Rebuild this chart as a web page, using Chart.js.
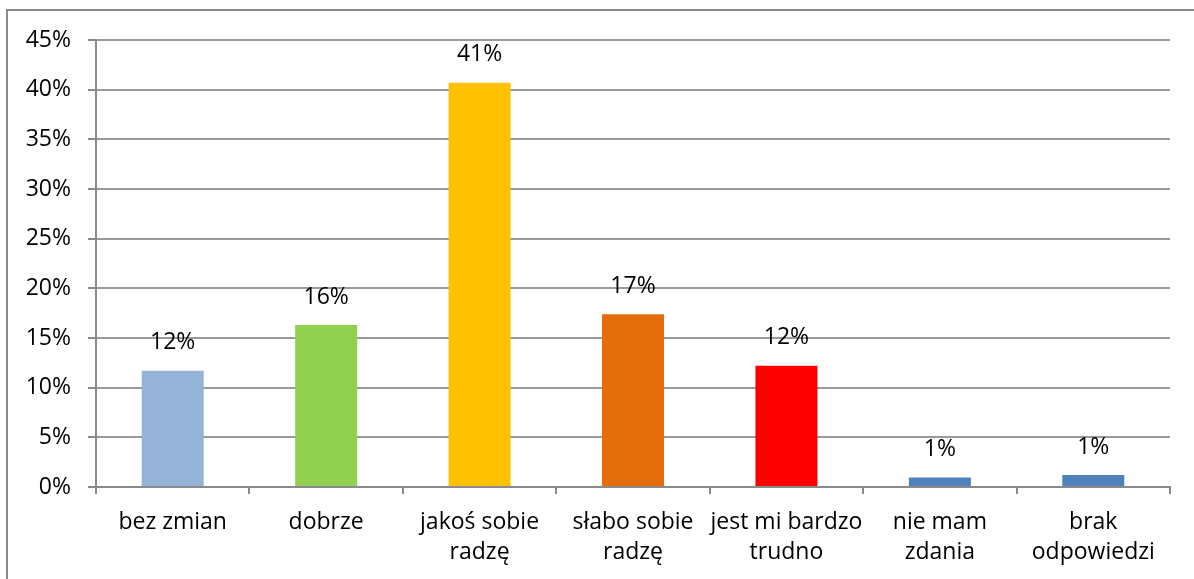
<!DOCTYPE html>
<html>
<head>
<meta charset="utf-8">
<script src="https://cdn.jsdelivr.net/npm/chart.js@4"></script>
<style>
  html, body { margin: 0; padding: 0; background: #fff; overflow: hidden; }
  #wrap { position: absolute; left: 0; top: 0; width: 1194px; height: 579px; }
  #frame { position: absolute; left: 6px; top: 9px; width: 1400px; height: 800px; border: 2px solid #8a8a8a; box-sizing: border-box; pointer-events: none; }
  canvas { position: absolute; left: 0; top: 0; }
</style>
</head>
<body>
<div id="wrap">
  <div id="frame"></div>
  <canvas id="c" width="1194" height="579"></canvas>
</div>
<script>
const categories = [
  'bez zmian',
  'dobrze',
  ['jakoś sobie', 'radzę'],
  ['słabo sobie', 'radzę'],
  ['jest mi bardzo', 'trudno'],
  ['nie mam', 'zdania'],
  ['brak', 'odpowiedzi']
];
const values = [11.7, 16.3, 40.7, 17.4, 12.2, 0.95, 1.2];
const valueLabels = ['12%', '16%', '41%', '17%', '12%', '1%', '1%'];
const barColors = ['#95B3D7', '#92D050', '#FFC000', '#E46C0A', '#FF0000', '#4F81BD', '#4F81BD'];
const yTicks = [0, 5, 10, 15, 20, 25, 30, 35, 40, 45];

const FONT = '"Open Sans", Lato, sans-serif';
const FS = 23;

const labelPlugin = {
  id: 'valueLabels',
  afterDatasetsDraw(chart) {
    const ctx = chart.ctx;
    const meta = chart.getDatasetMeta(0);
    ctx.save();
    ctx.font = FS + 'px ' + FONT;
    ctx.fillStyle = '#000';
    ctx.textAlign = 'center';
    ctx.textBaseline = 'middle';
    meta.data.forEach((bar, i) => {
      ctx.fillText(valueLabels[i], bar.x, bar.y - 28);
    });
    ctx.restore();
  }
};

new Chart(document.getElementById('c'), {
  type: 'bar',
  data: {
    labels: categories,
    datasets: [{
      data: values,
      backgroundColor: barColors,
      borderWidth: 0,
      barPercentage: 0.404,
      categoryPercentage: 1.0
    }]
  },
  options: {
    responsive: false,
    animation: false,
    layout: { padding: { left: 0, top: 40, right: 24, bottom: 0 } },
    plugins: { legend: { display: false }, tooltip: { enabled: false } },
    scales: {
      x: {
        afterFit(scale) { scale.height = 92; },
        grid: {
          display: true,
          offset: true,
          drawOnChartArea: false,
          drawTicks: true,
          tickLength: 7,
          color: '#8a8a8a',
          lineWidth: 2
        },
        border: { display: true, color: '#8a8a8a', width: 2 },
        ticks: {
          color: '#000',
          font: { family: FONT, size: FS, lineHeight: '30px' },
          padding: 13,
          maxRotation: 0,
          autoSkip: false
        }
      },
      y: {
        min: 0,
        max: 45,
        afterFit(scale) { scale.width = 96; },
        afterBuildTicks(scale) { scale.ticks = yTicks.map(v => ({ value: v })); },
        grid: {
          color: '#9a9a9a',
          lineWidth: 2,
          drawTicks: true,
          tickLength: 8,
          tickColor: '#8a8a8a'
        },
        border: { display: true, color: '#8a8a8a', width: 2 },
        ticks: {
          color: '#000',
          font: { family: FONT, size: FS },
          padding: 17,
          callback: v => v + '%'
        }
      }
    }
  },
  plugins: [labelPlugin]
});
</script>
</body>
</html>
